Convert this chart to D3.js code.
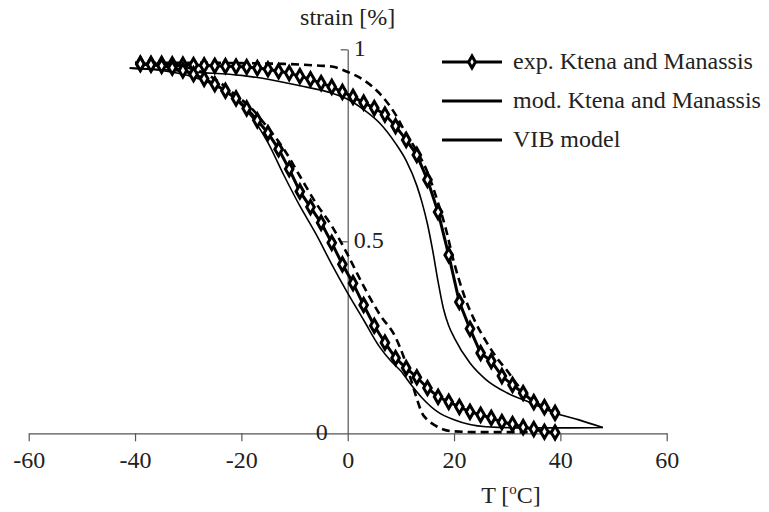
<!DOCTYPE html>
<html>
<head>
<meta charset="utf-8">
<script src="https://cdn.jsdelivr.net/npm/d3@7"></script>
<style>
  html, body { margin: 0; padding: 0; background: #fff; }
  svg { display: block; }
  text { font-family: "Liberation Serif", "Times New Roman", serif; fill: #222; }
</style>
</head>
<body>
<svg id="chart" width="769" height="512" font-family="Liberation Serif, serif"></svg>
<script>
// ---------------- data ----------------
const xTicks = [-60, -40, -20, 0, 20, 40, 60];
const yTicks = [0, 0.5, 1];
const yTickLabels = ["0", "0.5", "1"];

// exp. Ktena and Manassis (markers every 2 °C)
const expT = [-39,-37,-35,-33,-31,-29,-27,-25,-23,-21,-19,-17,-15,-13,-11,-9,-7,-5,-3,-1,
              1,3,5,7,9,11,13,15,17,19,21,23,25,27,29,31,33,35,37,39];
const expHeat = [0.962,0.962,0.962,0.961,0.960,0.959,0.958,0.957,0.956,0.955,0.954,0.951,0.948,0.943,0.938,0.930,0.922,0.912,0.902,0.889,
                 0.876,0.861,0.847,0.830,0.800,0.764,0.725,0.660,0.576,0.464,0.342,0.272,0.209,0.188,0.149,0.126,0.105,0.081,0.068,0.053];
const expCool = [0.962,0.960,0.957,0.952,0.945,0.935,0.923,0.909,0.892,0.872,0.846,0.815,0.782,0.740,0.688,0.630,0.589,0.548,0.496,0.440,
                 0.391,0.334,0.280,0.236,0.196,0.170,0.146,0.118,0.095,0.082,0.069,0.056,0.048,0.040,0.029,0.024,0.016,0.011,0.004,0.002];

// mod. Ktena and Manassis (dashed)
const modHeatT = [-40,-30,-20,-12,-6,-3,0,3,6,9,11,13,15,17,18.5,20,22,24,26,28,30,32,34.5,37,38.5];
const modHeat  = [0.965,0.965,0.964,0.962,0.958,0.955,0.941,0.920,0.885,0.830,0.780,0.735,0.680,0.600,0.530,0.445,0.355,0.290,0.240,0.197,0.163,0.125,0.092,0.070,0.062];
const modCoolT = [-40,-35,-30,-27,-24,-21,-18,-15,-12,-9,-6,-3,0,3,6,9,10.5,12,13,14,15,16.5,18,20,25,30,35];
const modCool  = [0.965,0.962,0.952,0.938,0.913,0.880,0.845,0.795,0.740,0.670,0.600,0.540,0.465,0.383,0.310,0.250,0.200,0.135,0.090,0.052,0.035,0.020,0.010,0.005,0.003,0.003,0.003];

// VIB model (thin solid)
const vibHeatT = [-41,-35,-28,-20,-15,-9,-3,0,3,6,9,11,13,14,15,16,17,18,19,20,23,26,30,34.5,39,43.5,48];
const vibHeat  = [0.951,0.947,0.940,0.932,0.922,0.905,0.886,0.870,0.843,0.808,0.755,0.710,0.645,0.600,0.545,0.475,0.395,0.325,0.280,0.250,0.183,0.140,0.105,0.079,0.053,0.035,0.015];
const vibCoolT = [-41,-35,-30,-26,-23,-21,-18,-15,-12,-9,-6,-3,0,3,6,8,10,12,14,17,20,26,33,42,48];
const vibCool  = [0.951,0.945,0.932,0.912,0.890,0.868,0.823,0.757,0.672,0.592,0.520,0.440,0.365,0.295,0.225,0.190,0.162,0.125,0.092,0.055,0.035,0.017,0.014,0.014,0.015];

const legendLabels = ["exp. Ktena and Manassis", "mod. Ktena and Manassis", "VIB model"];

// ---------------- drawing ----------------
const svg = d3.select("#chart");
const x = d3.scaleLinear().domain([-60, 60]).range([28.7, 666.7]);
const y = d3.scaleLinear().domain([0, 1]).range([433.3, 49.3]);
const axisColor = "#555";
const FS = 24;

// x axis (through y=0)
const gx = svg.append("g").attr("transform", `translate(0,${y(0)})`)
  .call(d3.axisBottom(x).tickValues(xTicks).tickSize(8).tickSizeOuter(0).tickFormat(d3.format("d")));
gx.attr("font-family", "Liberation Serif, serif");
gx.select(".domain").attr("stroke", axisColor).attr("stroke-width", 1.2);
gx.selectAll(".tick line").attr("stroke", axisColor).attr("stroke-width", 1.2);
gx.selectAll(".tick text").attr("font-size", FS).attr("dy", 0).attr("y", 35)
  .attr("fill", "#222").text(d => d < 0 ? "-" + Math.abs(d) : d);

// y axis (through x=0)
const gy = svg.append("g").attr("transform", `translate(${x(0)},0)`)
  .call(d3.axisLeft(y).tickValues(yTicks.slice(1)).tickSize(7).tickSizeOuter(0).tickFormat(""));
gy.select(".domain").attr("stroke", axisColor).attr("stroke-width", 1.2);
gy.selectAll(".tick line").attr("stroke", axisColor).attr("stroke-width", 1.2);
// y tick labels
svg.append("g").selectAll("text").data(yTicks).join("text")
  .attr("x", d => d === 0 ? x(0) - 20 : x(0) + 6)
  .attr("y", d => y(d) + 7)
  .attr("text-anchor", d => d === 0 ? "end" : "start")
  .attr("font-size", FS)
  .text((d, i) => yTickLabels[i]);

// axis titles
svg.append("text").attr("x", x(0)).attr("y", 25).attr("text-anchor", "middle")
  .attr("font-size", FS).text("strain [%]");
const xt = svg.append("text").attr("x", 511).attr("y", 503).attr("text-anchor", "middle").attr("font-size", FS);
xt.append("tspan").text("T [");
xt.append("tspan").attr("font-size", 15).attr("dy", -9).text("o");
xt.append("tspan").attr("dy", 9).text("C]");

// lines
const smooth = d3.line().x(d => x(d[0])).y(d => y(d[1])).curve(d3.curveMonotoneX);
const straight = d3.line().x(d => x(d[0])).y(d => y(d[1]));
const zip = (a, b) => a.map((v, i) => [v, b[i]]);

const plot = svg.append("g");
// VIB model
[zip(vibHeatT, vibHeat), zip(vibCoolT, vibCool)].forEach(dat => {
  plot.append("path").attr("d", smooth(dat)).attr("fill", "none")
    .attr("stroke", "#000").attr("stroke-width", 1.6);
});
// mod. (dashed)
[zip(modHeatT, modHeat), zip(modCoolT, modCool)].forEach(dat => {
  plot.append("path").attr("d", smooth(dat)).attr("fill", "none")
    .attr("stroke", "#000").attr("stroke-width", 2.6).attr("stroke-dasharray", "8,5");
});
// exp. (thick with diamonds)
const diamond = d3.symbol().type(d3.symbolDiamond).size(50);
[zip(expT, expHeat), zip(expT, expCool)].forEach(dat => {
  plot.append("path").attr("d", straight(dat)).attr("fill", "none")
    .attr("stroke", "#000").attr("stroke-width", 3);
  plot.append("g").selectAll("path").data(dat).join("path")
    .attr("transform", d => `translate(${x(d[0])},${y(d[1])})`)
    .attr("d", diamond).attr("fill", "#fff").attr("stroke", "#000").attr("stroke-width", 3);
});

// legend
const legendY = [62, 101, 140];
const lg = svg.append("g");
legendLabels.forEach((lab, i) => {
  lg.append("line").attr("x1", 442).attr("x2", 502).attr("y1", legendY[i]).attr("y2", legendY[i])
    .attr("stroke", "#000").attr("stroke-width", 3);
  if (i === 0) {
    lg.append("path").attr("transform", `translate(472,${legendY[i]})`)
      .attr("d", d3.symbol().type(d3.symbolDiamond).size(40)).attr("fill", "#fff").attr("stroke", "#000").attr("stroke-width", 3);
  }
  lg.append("text").attr("x", 513).attr("y", legendY[i] + 7).attr("font-size", FS).text(lab);
});
</script>
</body>
</html>
